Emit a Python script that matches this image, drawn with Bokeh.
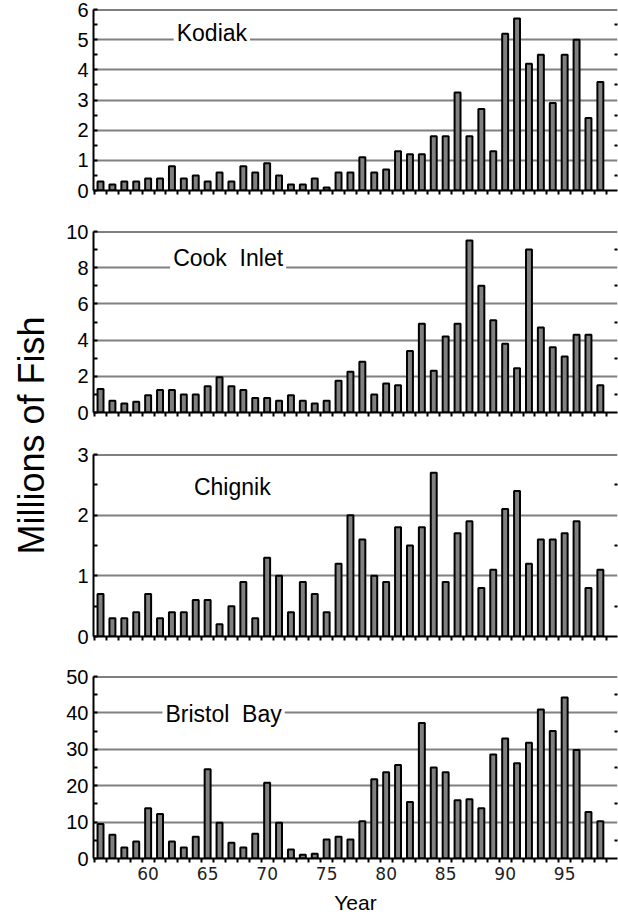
from bokeh.plotting import figure
from bokeh.layouts import row, column
from bokeh.models import Range1d, FixedTicker, LinearAxis, Label, Span
from bokeh.embed import file_html
from bokeh.resources import INLINE
import math

years = list(range(56, 99))
year_tick_labels = [60, 65, 70, 75, 80, 85, 90, 95]

kodiak = [0.3, 0.2, 0.3, 0.3, 0.4, 0.4, 0.8, 0.4, 0.5, 0.3, 0.6, 0.3, 0.8, 0.6, 0.9,
          0.5, 0.2, 0.2, 0.4, 0.1, 0.6, 0.6, 1.1, 0.6, 0.7, 1.3, 1.2, 1.2, 1.8, 1.8,
          3.25, 1.8, 2.7, 1.3, 5.2, 5.7, 4.2, 4.5, 2.9, 4.5, 5.0, 2.4, 3.6]
cook_inlet = [1.3, 0.65, 0.5, 0.6, 0.95, 1.25, 1.25, 1.0, 1.0, 1.45, 1.95, 1.45, 1.25,
              0.8, 0.8, 0.65, 0.95, 0.65, 0.5, 0.65, 1.75, 2.25, 2.8, 1.0, 1.6, 1.5,
              3.4, 4.9, 2.3, 4.2, 4.9, 9.5, 7.0, 5.1, 3.8, 2.45, 9.0, 4.7, 3.6, 3.1,
              4.3, 4.3, 1.5]
chignik = [0.7, 0.3, 0.3, 0.4, 0.7, 0.3, 0.4, 0.4, 0.6, 0.6, 0.2, 0.5, 0.9, 0.3, 1.3,
           1.0, 0.4, 0.9, 0.7, 0.4, 1.2, 2.0, 1.6, 1.0, 0.9, 1.8, 1.5, 1.8, 2.7, 0.9,
           1.7, 1.9, 0.8, 1.1, 2.1, 2.4, 1.2, 1.6, 1.6, 1.7, 1.9, 0.8, 1.1]
bristol_bay = [9.5, 6.5, 3.0, 4.7, 13.8, 12.2, 4.7, 3.0, 6.0, 24.5, 9.8, 4.3, 3.0, 6.8,
               20.8, 9.8, 2.5, 1.0, 1.3, 5.2, 6.0, 5.2, 10.2, 21.8, 23.7, 25.7, 15.5,
               37.2, 25.0, 23.7, 16.0, 16.3, 13.8, 28.6, 33.0, 26.2, 31.8, 40.9, 35.0,
               44.2, 29.8, 12.8, 10.2]

NBSP = "\u00a0"
panels = [
    # name, values, ymax, major step, label x, label y, height, top border, bottom border
    ("Kodiak", kodiak, 6, 1, 62.15, 5.21, 210, 9, 20),
    ("Cook" + NBSP + " Inlet", cook_inlet, 10, 2, 61.85, 8.55, 223, 21, 21),
    ("Chignik", chignik, 3, 1, 63.6, 2.47, 222, 21, 19),
    ("Bristol" + NBSP + " Bay", bristol_bay, 50, 10, 61.2, 39.6, 264, 21, 61),
]

FONT = "Liberation Sans"
x_range = Range1d(55.41, 99.44)
boundaries = [y + 0.5 for y in range(55, 99)]

figs = []
for i, (name, vals, ymax, step, lx, ly, h, bt, bb) in enumerate(panels):
    last = i == len(panels) - 1
    p = figure(width=558, height=h, x_range=x_range, y_range=Range1d(0, ymax),
               output_backend="svg", toolbar_location=None,
               min_border_left=33, min_border_right=1,
               min_border_top=bt, min_border_bottom=bb)
    p.outline_line_color = None
    p.background_fill_color = "white"
    p.border_fill_color = "white"

    majors = [k * step for k in range(int(ymax / step) + 1)]
    minors = [k * step + step / 2 for k in range(int(ymax / step))]
    p.yaxis.ticker = FixedTicker(ticks=majors, minor_ticks=minors)
    p.yaxis.axis_line_color = "black"
    p.yaxis.axis_line_width = 2
    p.yaxis.major_tick_in = 4
    p.yaxis.major_tick_out = 0
    p.yaxis.minor_tick_in = 4
    p.yaxis.minor_tick_out = 0
    p.yaxis.major_tick_line_width = 2
    p.yaxis.minor_tick_line_width = 2
    p.yaxis.major_label_text_font = FONT
    p.yaxis.major_label_text_font_size = "20px"
    p.yaxis.major_label_text_color = "black"
    p.yaxis.major_label_standoff = 5

    if last:
        p.xaxis.ticker = FixedTicker(ticks=year_tick_labels, minor_ticks=boundaries)
        p.xaxis.axis_label = "Year"
        p.xaxis.axis_label_text_font = FONT
        p.xaxis.axis_label_text_font_size = "21px"
        p.xaxis.axis_label_text_font_style = "normal"
        p.xaxis.axis_label_text_color = "black"
        p.xaxis.axis_label_standoff = 8
    else:
        p.xaxis.ticker = FixedTicker(ticks=[], minor_ticks=boundaries)
    p.xaxis.axis_line_color = "black"
    p.xaxis.axis_line_width = 2
    p.xaxis.major_tick_in = 0
    p.xaxis.major_tick_out = 0
    p.xaxis.minor_tick_in = 0
    p.xaxis.minor_tick_out = 4
    p.xaxis.minor_tick_line_width = 2
    p.xaxis.minor_tick_line_color = "black"
    p.xaxis.major_label_text_font = "DejaVu Sans"
    p.xaxis.major_label_text_font_size = "17px"
    p.xaxis.major_label_text_color = "#222222"
    p.xaxis.major_label_standoff = 4

    right = LinearAxis(ticker=FixedTicker(ticks=[], minor_ticks=minors))
    right.axis_line_color = None
    right.major_tick_in = 0
    right.major_tick_out = 0
    right.minor_tick_in = 3
    right.minor_tick_out = 0
    right.minor_tick_line_width = 2
    right.minor_tick_line_color = "black"
    right.major_label_standoff = 0
    p.add_layout(right, "right")

    p.xgrid.visible = False
    p.ygrid.grid_line_color = "#808080"
    p.ygrid.grid_line_width = 2

    p.add_layout(Span(location=ymax, dimension="width", line_color="black", line_width=2))

    p.vbar(x=years, top=vals, width=0.5, bottom=0,
           fill_color="#808080", line_color="black", line_width=2)

    p.add_layout(Label(x=lx, y=ly, text=name, text_font=FONT, text_font_size="23px",
                       text_color="black", text_align="left", text_baseline="alphabetic",
                       background_fill_color="white", padding=3))
    figs.append(p)

lab = figure(width=60, height=919, x_range=Range1d(0, 60), y_range=Range1d(0, 919),
             output_backend="svg", toolbar_location=None,
             min_border_left=0, min_border_right=0, min_border_top=0, min_border_bottom=0)
lab.axis.visible = False
lab.grid.visible = False
lab.outline_line_color = None
lab.add_layout(Label(x=31, y=484, text="Millions of Fish", angle=math.pi / 2,
                     text_font=FONT, text_font_size="36px", text_color="black",
                     text_align="center", text_baseline="middle"))

layout = row(lab, column(*figs, spacing=0), spacing=0)

open("out.html", "w").write(file_html(layout, INLINE))
